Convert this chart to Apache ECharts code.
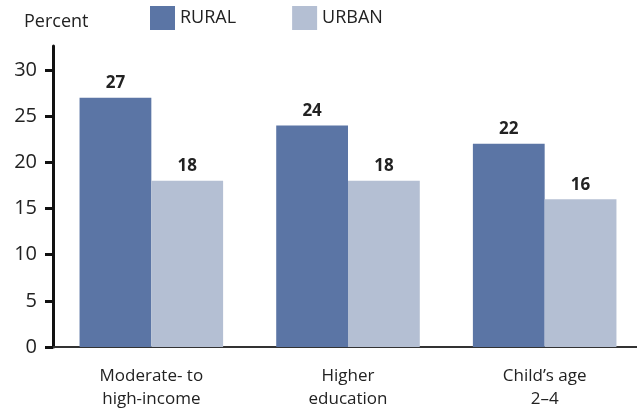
<!DOCTYPE html>
<html>
<head>
<meta charset="utf-8">
<script src="https://cdn.jsdelivr.net/npm/echarts@6/dist/echarts.min.js"></script>
<style>
html, body {margin: 0; padding: 0; background: #fff;}
#main {width: 637px; height: 408px;}
</style>
</head>
<body>
<div id="main"></div>
<script>
// data
var categories = ['Moderate- to\nhigh-income', 'Higher\neducation', 'Child\u2019s age\n2\u20134'];
var rural = [27, 24, 22];
var urban = [18, 18, 16];
var yTicks = [0, 5, 10, 15, 20, 25, 30];

var fontName = 'Open Sans';

var option = {
    animation: false,
    textStyle: {fontFamily: fontName},
    title: {
        text: 'Percent', left: 19, top: 8,
        textStyle: {fontFamily: fontName, fontSize: 18, fontWeight: 'normal', color: '#222'}
    },
    legend: {
        data: ['RURAL', 'URBAN'],
        left: 150, top: 6, padding: 0,
        itemWidth: 25, itemHeight: 24, itemGap: 56,
        icon: 'rect',
        textStyle: {fontFamily: fontName, fontSize: 18, color: '#222', padding: [2, 0, 0, 0]}
    },
    grid: {left: 53, right: -6, top: 46, bottom: 61, containLabel: false, outerBoundsMode: 'none'},
    xAxis: {
        type: 'category',
        data: categories,
        axisLine: {lineStyle: {color: '#333', width: 2}},
        axisTick: {show: false},
        axisLabel: {fontFamily: fontName, fontSize: 17, color: '#222', margin: 18, lineHeight: 23}
    },
    yAxis: {
        type: 'value',
        min: 0, max: 32.6,
        splitLine: {show: false},
        axisLine: {show: true, lineStyle: {color: '#111', width: 3}},
        axisTick: {show: true, length: 8, lineStyle: {color: '#111', width: 3}, customValues: yTicks},
        axisLabel: {fontFamily: fontName, fontSize: 20, color: '#222', margin: 16, customValues: yTicks}
    },
    series: [
        {
            name: 'RURAL', type: 'bar', data: rural,
            barGap: '0%', barCategoryGap: '27%',
            itemStyle: {color: '#5b75a5'},
            label: {show: true, position: 'top', distance: 6, fontFamily: fontName, fontSize: 17, fontWeight: 'bold', color: '#222'}
        },
        {
            name: 'URBAN', type: 'bar', data: urban,
            itemStyle: {color: '#b4bfd3'},
            label: {show: true, position: 'top', distance: 6, fontFamily: fontName, fontSize: 17, fontWeight: 'bold', color: '#222'}
        }
    ]
};

var myChart = echarts.init(document.getElementById('main'));
myChart.setOption(option);
</script>
</body>
</html>
